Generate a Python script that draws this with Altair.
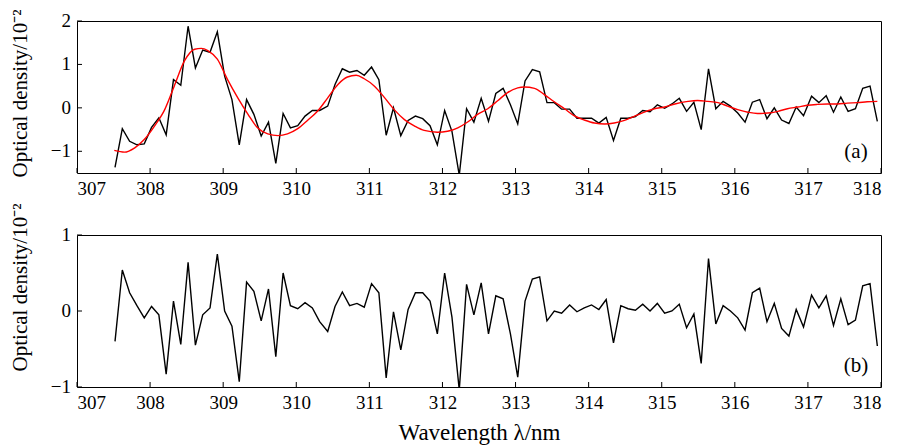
import altair as alt
import pandas as pd

# ---------------- data ----------------
wavelength = [
    307.52, 307.62, 307.72, 307.82, 307.92, 308.02, 308.12, 308.22, 308.32, 308.42,
    308.52, 308.62, 308.72, 308.82, 308.92, 309.02, 309.12, 309.22, 309.32, 309.42,
    309.52, 309.62, 309.72, 309.82, 309.92, 310.02, 310.12, 310.22, 310.32, 310.43,
    310.53, 310.63, 310.73, 310.83, 310.93, 311.03, 311.13, 311.23, 311.33, 311.43,
    311.53, 311.63, 311.73, 311.83, 311.93, 312.03, 312.13, 312.23, 312.33, 312.43,
    312.53, 312.63, 312.73, 312.83, 312.93, 313.03, 313.13, 313.23, 313.33, 313.43,
    313.53, 313.63, 313.74, 313.84, 313.94, 314.04, 314.14, 314.24, 314.34, 314.44,
    314.54, 314.64, 314.74, 314.84, 314.94, 315.04, 315.14, 315.24, 315.34, 315.44,
    315.54, 315.64, 315.74, 315.84, 315.94, 316.04, 316.14, 316.24, 316.34, 316.44,
    316.54, 316.64, 316.74, 316.84, 316.94, 317.05, 317.15, 317.25, 317.35, 317.45,
    317.55, 317.65, 317.75, 317.85, 317.95,
]

measured = [
    -1.37, -0.48, -0.77, -0.85, -0.83, -0.45, -0.23, -0.62, 0.65, 0.52,
    1.88, 0.92, 1.33, 1.28, 1.75, 0.73, 0.19, -0.85, 0.19, -0.15,
    -0.65, -0.33, -1.28, -0.13, -0.46, -0.41, -0.19, -0.06, -0.06, 0.04,
    0.54, 0.90, 0.82, 0.86, 0.75, 0.94, 0.65, -0.63, 0.00, -0.64,
    -0.29, -0.19, -0.25, -0.41, -0.85, -0.06, -0.54, -1.55, -0.02, -0.33,
    0.22, -0.31, 0.33, 0.45, 0.07, -0.37, 0.62, 0.88, 0.83, 0.12,
    0.12, -0.03, -0.03, -0.24, -0.24, -0.24, -0.35, -0.22, -0.75, -0.24,
    -0.24, -0.20, -0.06, -0.09, 0.07, -0.01, 0.09, 0.22, -0.08, 0.13,
    -0.50, 0.90, -0.02, 0.15, 0.04, -0.12, -0.33, 0.13, 0.19, -0.25,
    0.00, -0.28, -0.36, 0.02, -0.18, 0.27, 0.12, 0.28, -0.10, 0.25,
    -0.08, -0.02, 0.45, 0.50, -0.31,
]

residual = [
    -0.40, 0.54, 0.24, 0.07, -0.09, 0.06, -0.05, -0.83, 0.13, -0.44,
    0.64, -0.45, -0.05, 0.04, 0.75, 0.00, -0.20, -0.93, 0.38, 0.26,
    -0.13, 0.29, -0.60, 0.50, 0.07, 0.03, 0.11, 0.04, -0.14, -0.27,
    0.06, 0.25, 0.07, 0.10, 0.05, 0.36, 0.24, -0.88, -0.01, -0.51,
    0.02, 0.24, 0.24, 0.13, -0.30, 0.50, -0.08, -1.04, 0.35, -0.05,
    0.37, -0.30, 0.20, 0.16, -0.30, -0.87, 0.13, 0.42, 0.45, -0.13,
    0.00, -0.03, 0.08, -0.01, 0.04, 0.08, 0.02, 0.15, -0.42, 0.07,
    0.03, 0.01, 0.09, 0.00, 0.10, -0.03, 0.00, 0.09, -0.22, -0.04,
    -0.69, 0.69, -0.17, 0.07, 0.00, -0.09, -0.25, 0.24, 0.30, -0.14,
    0.10, -0.23, -0.33, 0.02, -0.21, 0.21, 0.04, 0.20, -0.19, 0.16,
    -0.18, -0.12, 0.33, 0.36, -0.46,
]

fit_wavelength = [
    307.51, 307.65, 307.79, 307.92, 308.06, 308.20, 308.33, 308.47, 308.61, 308.70,
    308.79, 308.92, 309.06, 309.20, 309.34, 309.47, 309.61, 309.75, 309.88, 310.02,
    310.16, 310.29, 310.43, 310.57, 310.70, 310.82, 310.93, 311.07, 311.21, 311.34,
    311.48, 311.62, 311.75, 311.93, 312.07, 312.21, 312.35, 312.48, 312.62, 312.76,
    312.89, 313.03, 313.12, 313.26, 313.39, 313.53, 313.67, 313.80, 313.94, 314.08,
    314.22, 314.35, 314.49, 314.63, 314.76, 314.90, 315.04, 315.18, 315.36, 315.49,
    315.63, 315.77, 315.90, 316.04, 316.18, 316.31, 316.45, 316.59, 316.72, 316.86,
    316.99, 317.13, 317.27, 317.40, 317.54, 317.68, 317.81, 317.95,
]

fit_values = [
    -0.98, -1.02, -0.92, -0.73, -0.42, -0.04, 0.50, 1.08, 1.35, 1.37,
    1.32, 1.12, 0.65, 0.23, -0.15, -0.46, -0.60, -0.64, -0.60, -0.48,
    -0.28, -0.08, 0.23, 0.54, 0.71, 0.75, 0.67, 0.50, 0.23, -0.04,
    -0.27, -0.42, -0.52, -0.56, -0.54, -0.46, -0.32, -0.15, -0.02, 0.17,
    0.35, 0.46, 0.48, 0.45, 0.31, 0.14, -0.02, -0.18, -0.28, -0.35,
    -0.37, -0.35, -0.29, -0.19, -0.10, -0.02, 0.02, 0.09, 0.15, 0.17,
    0.15, 0.12, 0.04, -0.04, -0.10, -0.13, -0.12, -0.08, -0.02, 0.02,
    0.06, 0.08, 0.09, 0.09, 0.11, 0.12, 0.14, 0.15,
]

x_ticks = [307, 308, 309, 310, 311, 312, 313, 314, 315, 316, 317, 318]
top_y_ticks = [-1, 0, 1, 2]
top_y_labels = ["\u22121", "0", "1", "2"]
bottom_y_ticks = [-1, 0, 1]
bottom_y_labels = ["\u22121", "0", "1"]
panel_labels = ["(a)", "(b)"]

# ---------------- chart ----------------
W, H = 804, 152
FONT = "Liberation Serif"
Y_TITLE = "Optical density/10\u207b\u00b2"

xscale = alt.Scale(domain=[307, 318], nice=False, zero=False)
top_yscale = alt.Scale(domain=[-1.5, 2], nice=False, zero=False)
bot_yscale = alt.Scale(domain=[-1, 1], nice=False, zero=False)

df_meas = pd.DataFrame({"x": wavelength, "y": measured})
df_fit = pd.DataFrame({"x": fit_wavelength, "y": fit_values})
df_res = pd.DataFrame({"x": wavelength, "y": residual})
df_xt = pd.DataFrame({"x": x_ticks})


def build_panel(line_layers, yscale, y_values, y_labels, x_title, label, title_y):
    x_axis = alt.Axis(values=x_ticks, format="d", title=x_title, labelOverlap=False)
    y_axis = alt.Axis(values=y_values, labels=False, title=Y_TITLE, titleY=title_y)
    X = alt.X("x:Q", scale=xscale, axis=x_axis)
    Y = alt.Y("y:Q", scale=yscale, axis=y_axis)
    df_yt = pd.DataFrame({"y": y_values, "lab": y_labels})
    layers = []
    for df, color, interp in line_layers:
        kw = dict(color=color, strokeWidth=1.4, clip=True)
        if interp:
            kw["interpolate"] = interp
        layers.append(alt.Chart(df).mark_line(**kw).encode(x=X, y=Y))
    # inward tick marks on bottom and left edges
    layers.append(
        alt.Chart(df_xt).mark_rule(color="black", strokeWidth=1).encode(
            x=X, y=alt.value(H), y2=alt.value(H - 5)
        )
    )
    layers.append(
        alt.Chart(df_yt).mark_rule(color="black", strokeWidth=1).encode(
            y=Y, x=alt.value(0), x2=alt.value(5)
        )
    )
    # y tick labels
    layers.append(
        alt.Chart(df_yt).mark_text(
            font=FONT, fontSize=19, color="black", align="right", baseline="middle", dx=-6
        ).encode(y=Y, x=alt.value(0), text="lab:N")
    )
    layers.append(
        alt.Chart(pd.DataFrame({"t": [label]})).mark_text(
            font=FONT, fontSize=21, color="black", align="center", baseline="middle"
        ).encode(text="t:N", x=alt.value(779), y=alt.value(131))
    )
    return alt.layer(*layers).properties(width=W, height=H)


top = build_panel(
    [(df_meas, "black", None), (df_fit, "#ff0000", "monotone")],
    top_yscale, top_y_ticks, top_y_labels, None, panel_labels[0], 72,
)
bottom = build_panel(
    [(df_res, "black", None)],
    bot_yscale, bottom_y_ticks, bottom_y_labels, "Wavelength \u03bb/nm", panel_labels[1], 52,
)

chart = (
    alt.vconcat(top, bottom, spacing=62, bounds="flush")
    .properties(padding={"left": 0, "top": 0, "right": 0, "bottom": 0})
    .configure_view(stroke="black", strokeWidth=1)
    .configure_axis(
        labelFont=FONT,
        labelFontSize=19,
        labelColor="black",
        titleFont=FONT,
        titleColor="black",
        titleFontWeight="normal",
        grid=False,
        ticks=False,
        domain=False,
        labelPadding=6,
    )
    .configure_axisY(titlePadding=47, titleFontSize=21)
    .configure_axisX(titlePadding=9, titleFontSize=23)
)

chart.save("out.html", embed_options={"renderer": "svg", "actions": False})
